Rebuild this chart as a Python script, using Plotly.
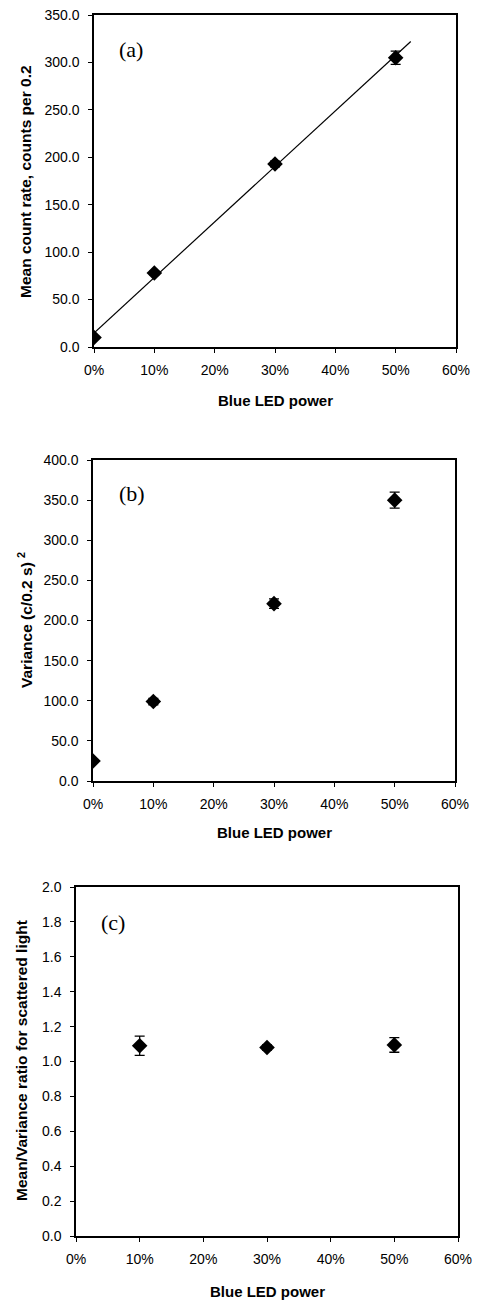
import numpy as np
import plotly.graph_objects as go

# ---- data ----
power = [0.0, 0.10, 0.30, 0.50]
mean_counts = [10.0, 78.0, 193.0, 305.0]
mean_err = [0.0, 2.0, 3.0, 7.0]

variance = [25.0, 99.0, 221.0, 350.0]
variance_err = [0.0, 4.0, 6.0, 10.0]

ratio_power = [0.10, 0.30, 0.50]
ratio = [1.09, 1.08, 1.095]
ratio_err = [0.055, 0.015, 0.042]

x_ticks = [0.0, 0.1, 0.2, 0.3, 0.4, 0.5, 0.6]
x_tick_text = ["0%", "10%", "20%", "30%", "40%", "50%", "60%"]

# linear trend line for panel (a)
slope, intercept = np.polyfit(power, mean_counts, 1)
trend_x = [0.0, 0.525]
trend_y = [intercept + slope * v for v in trend_x]

W, H = 478, 1300

def dx(px):
    return px / W

def dy(py):
    return 1 - py / H

panels = [
    # (x0, x1, ytop, ybottom) in pixels
    (94, 456, 15, 347),
    (93, 455, 460, 781),
    (76, 458, 887, 1236),
]

fig = go.Figure()

marker = dict(symbol="diamond", size=12, color="black")

def err(vals):
    return dict(type="data", array=vals, visible=True, color="black", thickness=1.3, width=5)

fig.add_trace(go.Scatter(x=trend_x, y=trend_y, mode="lines",
                         line=dict(color="black", width=1.2),
                         xaxis="x", yaxis="y", showlegend=False, hoverinfo="skip"))
fig.add_trace(go.Scatter(x=power, y=mean_counts, mode="markers", marker=marker,
                         error_y=err(mean_err), xaxis="x", yaxis="y", showlegend=False))
fig.add_trace(go.Scatter(x=power, y=variance, mode="markers", marker=marker,
                         error_y=err(variance_err), xaxis="x2", yaxis="y2", showlegend=False))
fig.add_trace(go.Scatter(x=ratio_power, y=ratio, mode="markers", marker=marker,
                         error_y=err(ratio_err), xaxis="x3", yaxis="y3", showlegend=False))

sans = "Liberation Sans, Arial, sans-serif"
tick_font = dict(family=sans, size=14, color="black")
xtitle_font = dict(family=sans, size=15, color="black")
ytitle_font = dict(family=sans, size=15.5, color="black")

yranges = [(0, 350, 50), (0, 400, 50), (0, 2.0, 0.2)]
layout = {}
for i, ((x0, x1, yt, yb), (ymin, ymax, ystep)) in enumerate(zip(panels, yranges)):
    sfx = "" if i == 0 else str(i + 1)
    layout["xaxis" + sfx] = dict(
        domain=[dx(x0), dx(x1)], anchor="y" + sfx, range=[0, 0.6],
        tickvals=x_ticks, ticktext=x_tick_text, ticks="outside", ticklen=4,
        tickcolor="black", tickwidth=1, showline=True, linecolor="black", linewidth=1.5,
        mirror=True, showgrid=False, zeroline=False, tickfont=tick_font,
        ticklabelstandoff=5, fixedrange=True, automargin=False,
    )
    layout["yaxis" + sfx] = dict(
        domain=[dy(yb), dy(yt)], anchor="x" + sfx, range=[ymin, ymax], dtick=ystep,
        tick0=0, tickformat=".1f", ticks="outside", ticklen=4,
        tickcolor="black", tickwidth=1, showline=True, linecolor="black", linewidth=1.5,
        mirror=True, showgrid=False, zeroline=False, tickfont=tick_font,
        ticklabelstandoff=6, fixedrange=True, automargin=False,
    )

annotations = []
# panel labels
for txt, px, py in [("(a)", 131, 50), ("(b)", 132, 493), ("(c)", 113, 922)]:
    annotations.append(dict(text=txt, x=dx(px), y=dy(py), xref="paper", yref="paper",
                            showarrow=False, xanchor="center", yanchor="middle",
                            font=dict(family="Liberation Serif, Times New Roman, serif",
                                      size=22, color="black")))
# x-axis titles
for (x0, x1, yt, yb), py in zip(panels, [400, 832, 1291]):
    annotations.append(dict(text="<b>Blue LED power</b>", x=dx((x0 + x1) / 2), y=dy(py),
                            xref="paper", yref="paper", showarrow=False,
                            xanchor="center", yanchor="middle", font=xtitle_font))
# y-axis titles
for txt, px, py in [("<b>Mean count rate, counts per 0.2</b>", 25, 182),
                    ("<b>Variance (c/0.2 s) <sup>2</sup></b>", 25, 620),
                    ("<b>Mean/Variance ratio for scattered light</b>", 21, 1061)]:
    annotations.append(dict(text=txt, x=dx(px), y=dy(py), xref="paper", yref="paper",
                            showarrow=False, xanchor="center", yanchor="middle",
                            textangle=-90, font=ytitle_font))

fig.update_layout(
    template="none",
    width=W, height=H,
    margin=dict(l=0, r=0, t=0, b=0, autoexpand=False),
    paper_bgcolor="white", plot_bgcolor="white",
    annotations=annotations,
    showlegend=False,
    **layout,
)

fig.write_html("out.html", config={"displayModeBar": False},
               post_script="document.body.style.margin='0';document.body.style.overflow='hidden';")
